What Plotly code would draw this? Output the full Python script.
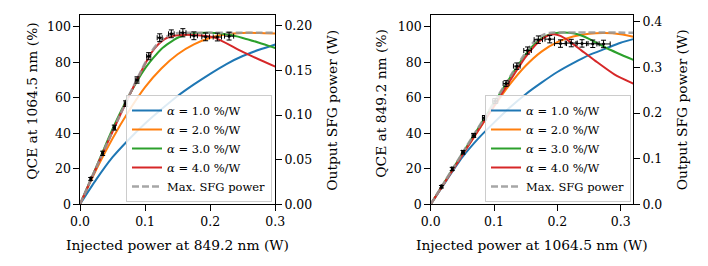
import plotly.graph_objects as go
from plotly.subplots import make_subplots

# ---------------- data ----------------
alpha_labels = ["1.0", "2.0", "3.0", "4.0"]
colors = ["#1f77b4", "#ff7f0e", "#2ca02c", "#d62728"]

# Left panel: injected power at 849.2 nm (W) vs QCE at 1064.5 nm (%)
L_blue_x = [0, 0.025, 0.05, 0.075, 0.1, 0.125, 0.15, 0.175, 0.2, 0.225, 0.25, 0.275, 0.3]
L_blue_y = [0, 14, 26.5, 36.5, 45.5, 53.5, 61, 67.5, 73.5, 79, 83.5, 87, 90]
L_orange_x = [0, 0.025, 0.05, 0.075, 0.1, 0.125, 0.15, 0.175, 0.2, 0.225, 0.25, 0.275, 0.3]
L_orange_y = [0, 19.5, 37, 52.5, 66, 76.5, 84.5, 90, 93.8, 95.8, 96.5, 96.5, 96.2]
L_green_x = [0, 0.025, 0.05, 0.075, 0.1, 0.125, 0.15, 0.175, 0.2, 0.225, 0.25, 0.275, 0.3]
L_green_y = [0, 21, 42.5, 61, 76.5, 87.5, 93.8, 96.3, 96.6, 95.7, 93.7, 91, 88]
L_red_x = [0, 0.02, 0.04, 0.06, 0.08, 0.1, 0.11, 0.12, 0.13, 0.14, 0.15, 0.17, 0.19, 0.208, 0.25, 0.3]
L_red_y = [0, 16.5, 32.8, 48.9, 64.5, 79, 85.5, 90, 93, 94.6, 95.2, 95.4, 94.9, 93.7, 85.8, 77.5]
L_max_x = [0, 0.02, 0.04, 0.06, 0.08, 0.1, 0.11, 0.12, 0.13, 0.14, 0.15, 0.16, 0.3]
L_max_y = [0, 16.6, 33, 49.2, 64.8, 79.5, 86, 90.8, 93.8, 95.6, 96.4, 96.6, 96.6]

L_data_x = [0.0164, 0.0348, 0.0527, 0.0702, 0.0876, 0.1055, 0.1224, 0.1403, 0.158, 0.175, 0.193, 0.211, 0.229]
L_data_y = [14.3, 28.7, 43.2, 56.7, 70.0, 83.4, 93.8, 96.0, 96.6, 94.9, 94.3, 94.2, 94.7]
L_data_xerr = [0.0006, 0.0012, 0.0017, 0.0022, 0.0027, 0.0032, 0.0038, 0.0043, 0.0048, 0.0054, 0.0059, 0.0064, 0.007]
L_data_yerr = [0.8, 1.2, 1.4, 1.6, 1.8, 2.0, 2.2, 2.2, 2.3, 2.2, 2.2, 2.2, 2.2]

# Right panel: injected power at 1064.5 nm (W) vs QCE at 849.2 nm (%)
R_blue_x = [0, 0.025, 0.05, 0.075, 0.1, 0.125, 0.15, 0.175, 0.2, 0.225, 0.25, 0.275, 0.3, 0.32]
R_blue_y = [0, 13.5, 26.5, 37, 46, 54.5, 62, 68.5, 74.5, 79.5, 84, 87.5, 91, 93]
R_orange_x = [0, 0.025, 0.05, 0.075, 0.1, 0.125, 0.15, 0.175, 0.2, 0.225, 0.25, 0.275, 0.3, 0.32]
R_orange_y = [0, 14, 28, 41.5, 55, 67.5, 78, 86, 91.3, 94.5, 96, 96.4, 95.7, 94.4]
R_green_x = [0, 0.05, 0.1, 0.13, 0.15, 0.165, 0.18, 0.195, 0.21, 0.225, 0.24, 0.25, 0.28, 0.32]
R_green_y = [0, 28.6, 57, 74, 84.5, 90.5, 94.5, 96.3, 96.8, 96.3, 94.8, 93.2, 87.6, 81.3]
R_red_x = [0, 0.05, 0.1, 0.125, 0.15, 0.165, 0.175, 0.185, 0.195, 0.205, 0.217, 0.238, 0.26, 0.29, 0.32]
R_red_y = [0, 27.8, 55.5, 69.5, 83, 89.5, 92.8, 95, 95.8, 94.8, 92.3, 86.7, 80.8, 73.2, 68]
R_max_x = [0, 0.05, 0.1, 0.13, 0.15, 0.16, 0.17, 0.18, 0.19, 0.32]
R_max_y = [0, 28.8, 57.3, 74.5, 85.5, 90.3, 93.8, 95.8, 96.6, 96.6]

R_data_x = [0.017, 0.034, 0.051, 0.068, 0.085, 0.102, 0.119, 0.136, 0.153, 0.170, 0.188, 0.205, 0.222, 0.239, 0.256, 0.273]
R_data_y = [9.9, 19.9, 29.3, 38.8, 48.7, 58.2, 68.0, 77.8, 86.6, 92.7, 93.0, 90.5, 90.8, 90.6, 90.4, 90.3]
R_data_xerr = [0.0007, 0.0013, 0.002, 0.0026, 0.0033, 0.004, 0.0046, 0.0053, 0.006, 0.0066, 0.0075, 0.0095, 0.0095, 0.0095, 0.010, 0.0105]
R_data_yerr = [0.7, 0.9, 1.0, 1.1, 1.3, 1.4, 1.6, 1.8, 2.0, 2.1, 2.1, 2.1, 2.1, 2.1, 2.1, 2.1]

# axis ranges / ticks
L_xrange = [0, 0.3]
R_xrange = [0, 0.32]
qce_range = [0, 106.6]
L_power_range = [0, 0.212]
R_power_range = [0, 0.415]
x_ticks = [0, 0.1, 0.2, 0.3]
qce_ticks = [0, 20, 40, 60, 80, 100]
L_power_ticks = [0, 0.05, 0.10, 0.15, 0.20]
R_power_ticks = [0, 0.1, 0.2, 0.3, 0.4]

titles = {
    "L_x": "Injected power at 849.2 nm (W)",
    "L_y": "QCE at 1064.5 nm (%)",
    "R_x": "Injected power at 1064.5 nm (W)",
    "R_y": "QCE at 849.2 nm (%)",
    "y2": "Output SFG power (W)",
}

# ---------------- figure ----------------
FONT = "DejaVu Serif"
OFF = 8                    # page body margin of the browser
W, H = 708, 266            # window size
FW, FH = W - OFF, H - OFF  # figure size so that it fits the window

fig = make_subplots(rows=1, cols=2, specs=[[{"secondary_y": True}, {"secondary_y": True}]])

panels = [
    (1, "legend", [(L_blue_x, L_blue_y), (L_orange_x, L_orange_y), (L_green_x, L_green_y), (L_red_x, L_red_y)],
     (L_max_x, L_max_y), (L_data_x, L_data_y, L_data_xerr, L_data_yerr)),
    (2, "legend2", [(R_blue_x, R_blue_y), (R_orange_x, R_orange_y), (R_green_x, R_green_y), (R_red_x, R_red_y)],
     (R_max_x, R_max_y), (R_data_x, R_data_y, R_data_xerr, R_data_yerr)),
]

for col, leg, curves, mx, dat in panels:
    for (cx, cy), c, a in zip(curves, colors, alpha_labels):
        fig.add_trace(go.Scatter(x=cx, y=cy, mode="lines", line=dict(color=c, width=2, shape="spline", smoothing=0.6),
                                 name=f"<i>α</i> = {a} %/W", legend=leg), row=1, col=col, secondary_y=False)
    fig.add_trace(go.Scatter(x=mx[0], y=mx[1], mode="lines",
                             line=dict(color="rgba(150,150,150,0.85)", width=2.6, dash="7px,3px", shape="spline", smoothing=0.5),
                             name="Max. SFG power", legend=leg), row=1, col=col, secondary_y=False)
    fig.add_trace(go.Scatter(x=dat[0], y=dat[1], mode="markers",
                             marker=dict(color="black", size=3),
                             error_x=dict(type="data", array=dat[2], color="black", thickness=1, width=2.5),
                             error_y=dict(type="data", array=dat[3], color="black", thickness=1, width=2.5),
                             showlegend=False), row=1, col=col, secondary_y=False)
    fig.add_trace(go.Scatter(x=[], y=[], showlegend=False, hoverinfo="skip"), row=1, col=col, secondary_y=True)

def px_x(p):
    return (p - OFF) / FW

def px_y(p):
    return 1 - (p - OFF) / FH

TICK_SIZE = 12.5
ydom = [px_y(204.3), px_y(15)]
axis_common = dict(showline=True, linecolor="black", linewidth=1.2, ticks="outside", ticklen=5.5,
                   tickwidth=1.1, tickcolor="black", showgrid=False, zeroline=False,
                   tickfont=dict(family=FONT, size=TICK_SIZE, color="black"))

fig.update_layout(
    width=FW, height=FH, margin=dict(l=0, r=0, t=0, b=0),
    paper_bgcolor="white", plot_bgcolor="white",
    font=dict(family=FONT, size=TICK_SIZE, color="black"),
    xaxis=dict(domain=[px_x(80), px_x(275.3)], range=L_xrange, tickvals=x_ticks,
               ticktext=[f"{v:.1f}" for v in x_ticks], mirror=True, automargin=False, **axis_common),
    yaxis=dict(domain=ydom, range=qce_range, tickvals=qce_ticks, ticktext=[str(v) for v in qce_ticks],
               automargin=False, **axis_common),
    yaxis2=dict(range=L_power_range, tickvals=L_power_ticks, ticktext=[f"{v:.2f}" for v in L_power_ticks],
                side="right", automargin=False, **axis_common),
    xaxis2=dict(domain=[px_x(430.7), px_x(633.3)], range=R_xrange, tickvals=x_ticks,
                ticktext=[f"{v:.1f}" for v in x_ticks], mirror=True, automargin=False, **axis_common),
    yaxis3=dict(domain=ydom, range=qce_range, tickvals=qce_ticks, ticktext=[str(v) for v in qce_ticks],
                automargin=False, **axis_common),
    yaxis4=dict(range=R_power_range, tickvals=R_power_ticks, ticktext=[f"{v:.1f}" for v in R_power_ticks],
                side="right", automargin=False, **axis_common),
    legend=dict(x=px_x(272), y=px_y(202), xanchor="right", yanchor="bottom",
                bgcolor="rgba(255,255,255,0.85)", bordercolor="#cccccc", borderwidth=1,
                font=dict(family=FONT, size=11.5, color="black"), itemwidth=30, tracegroupgap=0),
    legend2=dict(x=px_x(631), y=px_y(202), xanchor="right", yanchor="bottom",
                 bgcolor="rgba(255,255,255,0.85)", bordercolor="#cccccc", borderwidth=1,
                 font=dict(family=FONT, size=11.5, color="black"), itemwidth=30, tracegroupgap=0),
    showlegend=True,
)

ann = [
    (177.7, 245, titles["L_x"], 0),
    (532.0, 245, titles["R_x"], 0),
    (31.7, 101, titles["L_y"], -90),
    (380.7, 103, titles["R_y"], -90),
    (331.7, 110, titles["y2"], -90),
    (682.3, 110, titles["y2"], -90),
]
for xp, yp, t, ang in ann:
    fig.add_annotation(x=px_x(xp), y=px_y(yp), xref="paper", yref="paper", text=t, showarrow=False,
                       textangle=ang, xanchor="center", yanchor="middle",
                       font=dict(family=FONT, size=13.8, color="black"))

fig.write_html("out.html")
